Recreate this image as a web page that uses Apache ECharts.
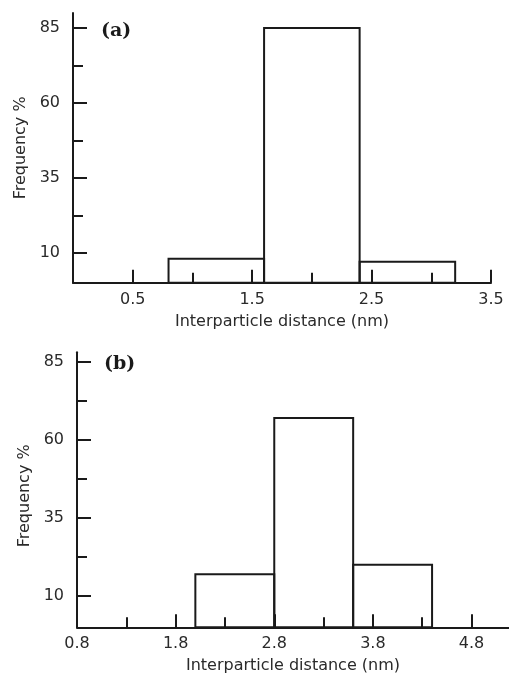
<!DOCTYPE html>
<html>
<head>
<meta charset="utf-8">
<script src="https://cdn.jsdelivr.net/npm/echarts@6/dist/echarts.min.js"></script>
<style>
html,body{margin:0;padding:0;background:#fff;}
#chart{width:509px;height:680px;}
</style>
</head>
<body>
<div id="chart"></div>
<script>
// ---- Panel (a) data ----
const binStartA = [0.8, 1.6, 2.4];
const binEndA   = [1.6, 2.4, 3.2];
const freqA     = [8, 85, 7];
const xMajorA   = [0.5, 1.5, 2.5, 3.5];
const xMinorA   = [1.0, 2.0, 3.0];
const xRangeA   = [0, 3.5];
const yMaxA     = 90;

// ---- Panel (b) data ----
const binStartB = [2.0, 2.8, 3.6];
const binEndB   = [2.8, 3.6, 4.4];
const freqB     = [17, 67, 20];
const xMajorB   = [0.8, 1.8, 2.8, 3.8, 4.8];
const xMinorB   = [1.3, 2.3, 3.3, 4.3];
const xRangeB   = [0.8, 5.18];
const yMaxB     = 88;

// ---- shared y ticks ----
const yMajor = [10, 35, 60, 85];
const yMinor = [22.5, 47.5, 72.5];

const panelLabels = ['(a)', '(b)'];
const xTitle = 'Interparticle distance (nm)';
const yTitle = 'Frequency %';

const INK = '#1a1a1a';
const TXT = '#2a2a2a';
const FONT = 'DejaVu Sans';

function majorX(grid, range, ticks, nameGap) {
  return {
    type: 'value', gridIndex: grid, min: range[0], max: range[1],
    axisLine: {show: true, onZero: false, lineStyle: {color: INK, width: 2}},
    axisTick: {show: true, inside: true, length: 13, customValues: ticks, lineStyle: {color: INK, width: 2}},
    axisLabel: {show: true, customValues: ticks, margin: 9, color: TXT, fontFamily: FONT, fontSize: 16,
      showMinLabel: true, showMaxLabel: true, hideOverlap: false,
      formatter: v => v.toFixed(1)},
    splitLine: {show: false},
    name: xTitle, nameLocation: 'middle', nameGap: nameGap,
    nameTextStyle: {color: TXT, fontFamily: FONT, fontSize: 16}
  };
}
function minorX(grid, range, ticks) {
  return {
    type: 'value', gridIndex: grid, min: range[0], max: range[1], position: 'bottom',
    axisLine: {show: false},
    axisTick: {show: true, inside: true, length: 10, customValues: ticks, lineStyle: {color: INK, width: 2}},
    axisLabel: {show: false},
    splitLine: {show: false}
  };
}
function majorY(grid, max, padding) {
  return {
    type: 'value', gridIndex: grid, min: 0, max: max,
    axisLine: {show: true, onZero: false, lineStyle: {color: INK, width: 2}},
    axisTick: {show: true, inside: true, length: 14, customValues: yMajor, lineStyle: {color: INK, width: 2}},
    axisLabel: {show: true, customValues: yMajor, margin: 13, color: TXT, fontFamily: FONT, fontSize: 16,
      hideOverlap: false},
    splitLine: {show: false},
    name: yTitle, nameLocation: 'middle', nameRotate: 90, nameGap: 44,
    nameTextStyle: {color: TXT, fontFamily: FONT, fontSize: 16, padding: padding}
  };
}
function minorY(grid, max) {
  return {
    type: 'value', gridIndex: grid, min: 0, max: max, position: 'left',
    axisLine: {show: false},
    axisTick: {show: true, inside: true, length: 10, customValues: yMinor, lineStyle: {color: INK, width: 2}},
    axisLabel: {show: false},
    splitLine: {show: false}
  };
}
function histSeries(xi, yi, starts, ends, vals) {
  return {
    type: 'custom', xAxisIndex: xi, yAxisIndex: yi,
    data: starts.map((s, i) => [s, ends[i], vals[i]]),
    encode: {x: [0, 1], y: 2},
    clip: false,
    renderItem: function (params, api) {
      const p0 = api.coord([api.value(0), api.value(2)]);
      const p1 = api.coord([api.value(1), 0]);
      return {
        type: 'rect',
        shape: {x: p0[0], y: p0[1], width: p1[0] - p0[0], height: p1[1] - p0[1]},
        style: {fill: 'none', stroke: INK, lineWidth: 2}
      };
    }
  };
}

const chart = echarts.init(document.getElementById('chart'), null, {renderer: 'canvas'});
chart.setOption({
  animation: false,
  backgroundColor: '#ffffff',
  grid: [
    {left: 73, right: 18, top: 13, bottom: 397.3, containLabel: false, outerBoundsMode: 'none'},
    {left: 77, right: 0, top: 352.3, bottom: 52.7, containLabel: false, outerBoundsMode: 'none'}
  ],
  xAxis: [
    majorX(0, xRangeA, xMajorA, 31),
    minorX(0, xRangeA, xMinorA),
    majorX(1, xRangeB, xMajorB, 31),
    minorX(1, xRangeB, xMinorB)
  ],
  yAxis: [
    majorY(0, yMaxA, [0, 0, 0, 0]),
    minorY(0, yMaxA),
    majorY(1, yMaxB, [0, 12, 0, 0]),
    minorY(1, yMaxB)
  ],
  graphic: [
    {type: 'text', left: 101, top: 22, style: {text: panelLabels[0], font: 'bold 19px "DejaVu Serif"', fill: INK}},
    {type: 'text', left: 104, top: 355, style: {text: panelLabels[1], font: 'bold 19px "DejaVu Serif"', fill: INK}}
  ],
  series: [
    histSeries(0, 0, binStartA, binEndA, freqA),
    histSeries(2, 2, binStartB, binEndB, freqB)
  ]
});
</script>
</body>
</html>
